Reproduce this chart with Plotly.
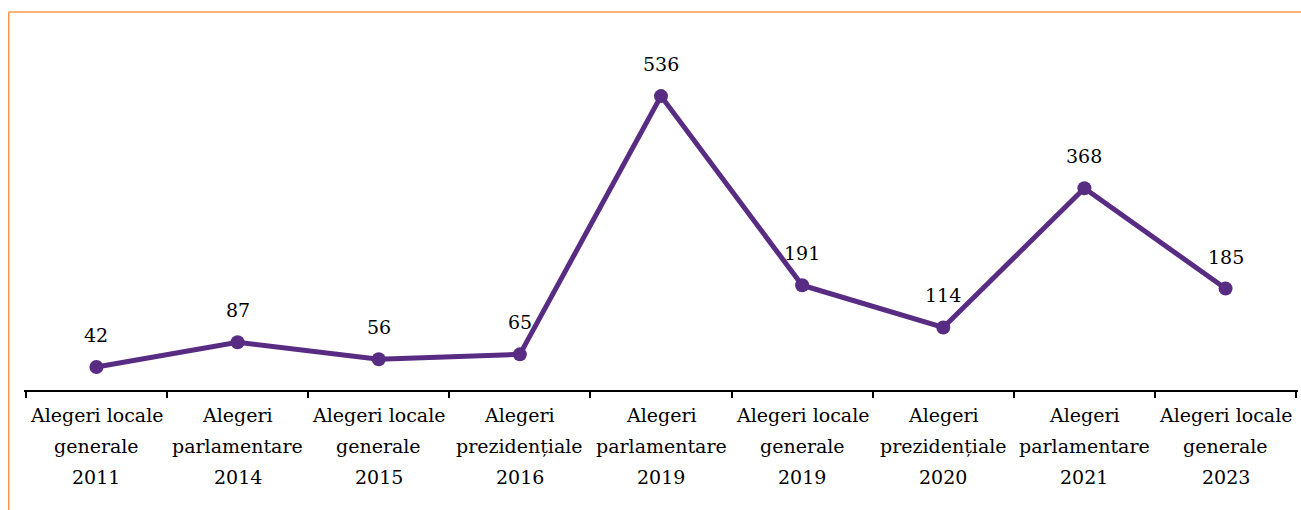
import plotly.graph_objects as go

# categorii (alegeri) si numarul de cazuri
categories = [
    "Alegeri locale generale 2011",
    "Alegeri parlamentare 2014",
    "Alegeri locale generale 2015",
    "Alegeri prezidențiale 2016",
    "Alegeri parlamentare 2019",
    "Alegeri locale generale 2019",
    "Alegeri prezidențiale 2020",
    "Alegeri parlamentare 2021",
    "Alegeri locale generale 2023",
]
# etichete pe 3 randuri, ca in original
label_lines = [
    ["Alegeri locale", "generale", "2011"],
    ["Alegeri", "parlamentare", "2014"],
    ["Alegeri locale", "generale", "2015"],
    ["Alegeri", "prezidențiale", "2016"],
    ["Alegeri", "parlamentare", "2019"],
    ["Alegeri locale", "generale", "2019"],
    ["Alegeri", "prezidențiale", "2020"],
    ["Alegeri", "parlamentare", "2021"],
    ["Alegeri locale", "generale", "2023"],
]
values = [42, 87, 56, 65, 536, 191, 114, 368, 185]

LINE_COLOR = "#582C83"
BORDER_COLOR = "#F79646"
FONT = "DejaVu Serif"

fig = go.Figure()
fig.add_trace(go.Scatter(
    x=categories, y=values,
    mode="lines+markers",
    line=dict(color=LINE_COLOR, width=5),
    marker=dict(color=LINE_COLOR, size=14),
    hoverinfo="skip",
))

# valori deasupra punctelor
for cat, val in zip(categories, values):
    fig.add_annotation(
        x=cat, y=val, text=str(val), showarrow=False,
        yshift=32, font=dict(family=FONT, size=19, color="black"),
    )

# etichetele axei X, cate un rand pe adnotare (spatiere mai mare intre randuri)
for cat, lines in zip(categories, label_lines):
    for i, line in enumerate(lines):
        fig.add_annotation(
            x=cat, y=0, text=line, showarrow=False,
            yshift=-(25 + 31 * i), font=dict(family=FONT, size=19, color="black"),
        )

# contur portocaliu (sus si stanga)
fig.add_shape(type="line", xref="paper", yref="paper", x0=-0.012, x1=1.01, y0=1.149, y1=1.149,
              line=dict(color=BORDER_COLOR, width=1.5))
fig.add_shape(type="line", xref="paper", yref="paper", x0=-0.012, x1=-0.012, y0=1.149, y1=-0.37,
              line=dict(color=BORDER_COLOR, width=1.5))

fig.update_layout(
    width=1301, height=510,
    margin=dict(l=24, r=3, t=61, b=120),
    paper_bgcolor="white", plot_bgcolor="white",
    showlegend=False,
    font=dict(family=FONT, size=19, color="black"),
    xaxis=dict(
        showline=True, linecolor="black", linewidth=1.5, automargin=False,
        ticks="outside", tickson="boundaries", ticklen=6, tickcolor="black", tickwidth=1.5,
        showgrid=False, showticklabels=False,
    ),
    yaxis=dict(range=[0, 600], visible=False, showgrid=False, zeroline=False, automargin=False),
)

fig.write_html("out.html", config={"displayModeBar": False},
               post_script="document.body.style.margin='0';")
